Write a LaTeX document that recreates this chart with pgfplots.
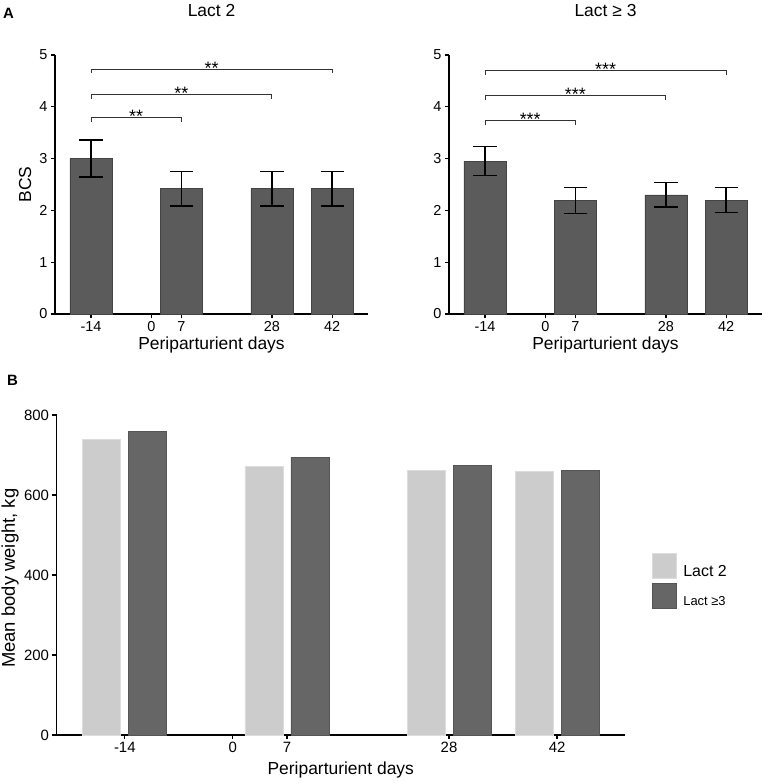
\documentclass[border=0pt]{standalone}
\usepackage{pgfplots}
\pgfplotsset{compat=1.18}
\usepackage{fontspec}
\setmainfont{Liberation Sans}
\definecolor{barA}{HTML}{5B5B5B}
\definecolor{edgeA}{HTML}{444444}
\definecolor{lightB}{HTML}{CCCCCC}
\definecolor{lightE}{HTML}{DDDDDD}
\definecolor{darkB}{HTML}{666666}
\definecolor{darkE}{HTML}{555555}
\definecolor{brk}{HTML}{333333}

\pgfplotstableread{
x y e
-14 3.00 0.36
7 2.42 0.33
28 2.42 0.33
42 2.42 0.33
}\lactTwo
\pgfplotstableread{
x y e
-14 2.95 0.28
7 2.19 0.25
28 2.30 0.24
42 2.20 0.24
}\lactThree
\pgfplotstableread{
x a b
-14 739 758
7 671 694
28 662 673
42 660 661
}\weight

\tikzset{stars/.style={anchor=base, font=\fontsize{18}{20}\selectfont, yshift=-5bp, inner sep=0pt}}
\pgfplotsset{
  Astyle/.style={
    scale only axis, width=313bp, height=259bp,
    xmin=-22.35, xmax=50.3, ymin=0, ymax=5,
    axis x line*=bottom, axis y line*=left,
    axis line style={line width=1.5bp, black},
    tick align=outside, major tick length=4bp,
    major tick style={line width=1.2bp, black},
    xtick={-14,0,7,28,42}, xticklabels={-14,0,7,28,42},
    ytick={0,1,2,3,4,5}, yticklabels={0,1,2,3,4,5},
    ticklabel style={font=\fontsize{14.5}{16}\selectfont},
    clip=false,
    ybar, bar width=42bp,
    title style={at={(axis description cs:0.5,1.127)}, anchor=base, font=\fontsize{17.5}{20}\selectfont},
    xlabel style={at={(axis description cs:0.5,-0.139)}, anchor=base, font=\fontsize{17.5}{20}\selectfont},
    ylabel style={at={(axis description cs:-0.0958,0.5)}, anchor=center, font=\fontsize{17.5}{20}\selectfont},
    xlabel={Periparturient days},
  },
  Abar/.style={fill=barA, draw=edgeA, line width=0.6bp,
    error bars/.cd, y dir=both, y explicit,
    error bar style={line width=1.6bp, black},
    error mark options={rotate=90, line width=1.6bp, black, mark size=11.7bp}},
}

\begin{document}
\begin{tikzpicture}
\useasboundingbox (0,0) rectangle (765bp,783bp);

% Panel A, left
\begin{axis}[Astyle, at={(55bp,469bp)}, anchor=south west,
  title={Lact 2}, ylabel={BCS}]
\addplot[Abar] table[x=x, y=y, y error=e] {\lactTwo};
\draw[brk, line width=0.9bp] (axis cs:-14,4.65) |- (axis cs:42,4.72) -- (axis cs:42,4.65);
\draw[brk, line width=0.9bp] (axis cs:-14,4.16) |- (axis cs:28,4.23) -- (axis cs:28,4.16);
\draw[brk, line width=0.9bp] (axis cs:-14,3.71) |- (axis cs:7,3.79) -- (axis cs:7,3.71);
\node[stars] at (axis cs:14,4.72) {**};
\node[stars] at (axis cs:7,4.23) {**};
\node[stars] at (axis cs:-3.5,3.79) {**};
\end{axis}

% Panel A, right
\begin{axis}[Astyle, at={(449bp,469bp)}, anchor=south west,
  title={Lact ≥ 3}]
\addplot[Abar] table[x=x, y=y, y error=e] {\lactThree};
\draw[brk, line width=0.9bp] (axis cs:-14,4.62) |- (axis cs:42,4.70) -- (axis cs:42,4.62);
\draw[brk, line width=0.9bp] (axis cs:-14,4.13) |- (axis cs:28,4.21) -- (axis cs:28,4.13);
\draw[brk, line width=0.9bp] (axis cs:-14,3.65) |- (axis cs:7,3.74) -- (axis cs:7,3.65);
\node[stars] at (axis cs:14,4.70) {***};
\node[stars] at (axis cs:7,4.21) {***};
\node[stars] at (axis cs:-3.5,3.74) {***};
\end{axis}

% Panel B
\begin{axis}[at={(56.5bp,48bp)}, anchor=south west,
    scale only axis, width=568.5bp, height=320bp,
    xmin=-22.85, xmax=50.8, ymin=0, ymax=800,
    axis x line*=bottom, axis y line*=left,
    axis line style={line width=1.5bp, black},
    tick align=outside, major tick length=4bp,
    major tick style={line width=1.2bp, black},
    xtick={-14,0,7,28,42}, xticklabels={-14,0,7,28,42},
    ytick={0,200,400,600,800}, yticklabels={0,200,400,600,800},
    ticklabel style={font=\fontsize{15}{17}\selectfont},
    ybar, bar width=38bp, clip=false,
    xlabel={Periparturient days},
    ylabel={Mean body weight, kg},
    xlabel style={at={(axis description cs:0.5,-0.125)}, anchor=base, font=\fontsize{17.5}{20}\selectfont},
    ylabel style={at={(axis description cs:-0.0818,0.49)}, anchor=center, font=\fontsize{18.5}{20}\selectfont},
    legend style={draw=none, fill=none, at={(axis description cs:1.047,0.570)}, anchor=north west,
      inner sep=0pt, row sep=3bp, font=\fontsize{16}{18}\selectfont},
    legend cell align=left,
    legend image code/.code={\draw[#1] (0bp,-6.8bp) rectangle (24bp,18.2bp);\path[draw=none,fill=none] (0bp,0bp) rectangle (29bp,0.1bp);},
  ]
\addplot[fill=lightB, draw=lightE, line width=0.8bp, bar shift=-23bp] table[x=x, y=a] {\weight};
\addlegendentry{Lact 2}
\addplot[fill=darkB, draw=darkE, line width=0.8bp, bar shift=23bp] table[x=x, y=b] {\weight};
\addlegendentry{\fontsize{13}{15}\selectfont Lact ≥3}
\end{axis}

\node[anchor=base west, font=\bfseries\fontsize{15}{17}\selectfont, inner sep=0pt] at (3bp,764bp) {A};
\node[anchor=base west, font=\bfseries\fontsize{15}{17}\selectfont, inner sep=0pt] at (7bp,397bp) {B};
\end{tikzpicture}
\end{document}
